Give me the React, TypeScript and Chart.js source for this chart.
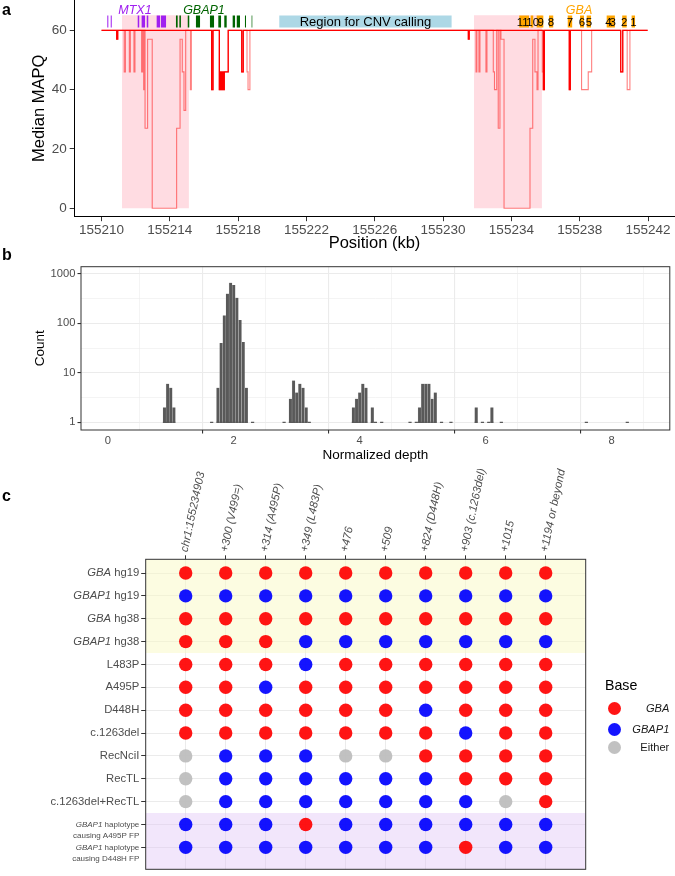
import React, { useEffect, useRef } from 'react';
import { Chart, registerables } from 'chart.js';

Chart.register(...registerables);

const FONT = '"Liberation Sans", Arial, Helvetica, sans-serif';
const AXIS_TEXT = '#4D4D4D';
Chart.defaults.font.family = FONT;

// ---------------- Panel a data ----------------
const POSITION_TICKS = [155210, 155214, 155218, 155222, 155226, 155230, 155234, 155238, 155242];
const MAPQ_TICKS = [0, 20, 40, 60];
// [position kb, median MAPQ] (value holds until next position)
const MAPQ_LIGHT: [number, number][] = [
  [155210.0, 60], [155210.89, 57], [155210.95, 60], [155211.33, 46], [155211.4, 60],
  [155211.63, 46], [155211.69, 60], [155211.9, 46], [155211.96, 60], [155212.35, 46],
  [155212.41, 60], [155212.47, 40], [155212.53, 60], [155212.55, 27], [155212.7, 57],
  [155212.97, 0], [155214.4, 27], [155214.6, 57], [155214.73, 46], [155214.83, 33],
  [155214.93, 60], [155215.2, 40], [155215.26, 60], [155216.45, 40], [155216.53, 60],
  [155216.9, 40], [155217.19, 46], [155217.42, 60], [155218.21, 46], [155218.3, 60],
  [155218.52, 46], [155218.58, 40], [155218.69, 60], [155231.48, 57], [155231.53, 60],
  [155231.93, 46], [155231.98, 60], [155232.1, 46], [155232.16, 60], [155232.51, 46],
  [155232.57, 60], [155232.94, 46], [155233.01, 40], [155233.14, 60], [155233.23, 27],
  [155233.33, 60], [155233.39, 57], [155233.57, 0], [155235.09, 27], [155235.25, 57],
  [155235.38, 46], [155235.5, 40], [155235.56, 60], [155235.81, 46], [155235.87, 40],
  [155235.93, 60], [155237.39, 40], [155237.45, 60], [155238.11, 40], [155238.5, 46],
  [155238.7, 60], [155240.4, 46], [155240.52, 60], [155240.78, 40], [155240.94, 60],
  [155241.98, 60],
];
const MAPQ_SOLID: [number, number][] = [
  [155210.0, 60], [155210.89, 57], [155210.95, 60], [155216.45, 40], [155216.53, 60],
  [155216.9, 40], [155216.94, 46], [155216.98, 40], [155217.02, 46], [155217.06, 40],
  [155217.1, 46], [155217.14, 40], [155217.19, 46], [155217.42, 60], [155218.21, 46],
  [155218.3, 60], [155231.48, 57], [155231.53, 60], [155235.87, 40], [155235.93, 60],
  [155237.39, 40], [155237.45, 60], [155240.4, 46], [155240.52, 60], [155241.98, 60],
];
const MTX1_EXONS: [number, number][] = [
  [155210.34, 155210.4], [155210.54, 155210.6], [155212.12, 155212.21], [155212.35, 155212.55],
  [155212.65, 155212.74], [155213.23, 155213.43], [155213.48, 155213.78],
];
const GBAP1_EXONS: [number, number][] = [
  [155214.36, 155214.46], [155214.56, 155214.65], [155215.05, 155215.14], [155215.53, 155215.77],
  [155216.35, 155216.59], [155216.84, 155217.0], [155217.19, 155217.33], [155217.68, 155217.82],
  [155217.92, 155218.11], [155218.4, 155218.46], [155218.79, 155218.83],
];
const GBA_EXONS: [number, number][] = [
  [155234.46, 155235.03], [155235.13, 155235.28], [155235.48, 155235.87], [155236.2, 155236.45],
  [155237.3, 155237.56], [155238.02, 155238.25], [155238.41, 155238.66], [155239.58, 155240.06],
  [155240.49, 155240.75], [155241.04, 155241.24],
];
const GBA_EXON_NUMBERS = ['11', '10', '9', '8', '7', '6', '5', '4', '3', '2', '1'];
const GBA_EXON_NUMBER_KB = [155234.66, 155235.25, 155235.71, 155236.32, 155237.43, 155238.13, 155238.54, 155239.69, 155239.93, 155240.61, 155241.14];
const GENE_NAMES = ['MTX1', 'GBAP1', 'GBA'];
const GENE_NAME_KB = [155211.96, 155216.0, 155237.96];
const GENE_COLORS = ['#A020F0', '#006400', '#FFA500'];
const CNV_REGION: [number, number] = [155220.41, 155230.5];
const CNV_LABEL = 'Region for CNV calling';
const LOW_MAPQ_REGIONS: [number, number][] = [[155211.2, 155215.12], [155231.81, 155235.79]];

// ---------------- Panel b data ----------------
const DEPTH_BIN_CENTERS = [
  0.9, 0.95, 1.0, 1.05,
  1.65, 1.75, 1.8, 1.85, 1.9, 1.95, 2.0, 2.05, 2.1, 2.15, 2.2, 2.3,
  2.8, 2.9, 2.95, 3.0, 3.05, 3.1, 3.15, 3.2,
  3.9, 3.95, 4.0, 4.05, 4.1, 4.2, 4.25, 4.35,
  4.8, 4.9, 4.95, 5.0, 5.05, 5.1, 5.15, 5.2, 5.3, 5.45,
  5.85, 5.95, 6.05, 6.1, 6.25,
  7.6, 8.25,
];
const DEPTH_BIN_COUNTS = [
  2, 6, 5, 2,
  1, 5, 40, 145, 400, 660, 600, 330, 117, 42, 5, 1,
  1, 3, 7, 4, 6, 5, 2, 1,
  2, 3, 4, 6, 5, 2, 1, 1,
  1, 1, 2, 6, 6, 6, 3, 4, 1, 1,
  2, 1, 1, 2, 1,
  1, 1,
];
const DEPTH_TICKS = [0, 1, 2, 3, 4, 5, 6, 7, 8];
const COUNT_TICKS = [1, 3.1623, 10, 31.623, 100, 316.23, 1000];
const COUNT_LABELS = [1, 10, 100, 1000];

// ---------------- Panel c data ----------------
const VARIANT_COLUMNS = ['chr1:155234903', '+300 (V499=)', '+314 (A495P)', '+349 (L483P)', '+476', '+509', '+824 (D448H)', '+903 (c.1263del)', '+1015', '+1194 or beyond'];
const ROW_ITALIC = ['GBA', 'GBAP1', 'GBA', 'GBAP1', '', '', '', '', '', '', '', 'GBAP1', 'GBAP1'];
const ROW_TEXT = [' hg19', ' hg19', ' hg38', ' hg38', 'L483P', 'A495P', 'D448H', 'c.1263del', 'RecNciI', 'RecTL', 'c.1263del+RecTL', ' haplotype', ' haplotype'];
const ROW_SUBTEXT = ['', '', '', '', '', '', '', '', '', '', '', 'causing A495P FP', 'causing D448H FP'];
const ROW_BASES = [
  'GGGGGGGGGG', 'PPPPPPPPPP', 'GGGGGGGGGG', 'GGGPPPPPPP', 'GGGPGGGGGG', 'GGPGGGGGGG', 'GGGGGGPGGG',
  'GGGGGGGPGG', 'EPPPEEGGGG', 'EPPPPPPGGG', 'EPPPPPPPEG', 'PPPGPPPPPP', 'PPPPPPPGPP',
];
const BASE_CODES = ['G', 'P', 'E'];
const BASE_NAMES = ['GBA', 'GBAP1', 'Either'];
const BASE_ITALIC = [true, true, false];
const BASE_COLORS = ['rgba(255,0,0,0.92)', 'rgba(0,0,255,0.92)', 'rgba(190,190,190,0.95)'];

const common = {
  animation: false as const,
  responsive: false,
  devicePixelRatio: 1,
  events: [] as any[],
};

function panelAConfig(): any {
  const TRACK = 63;
  const seg = (ranges: [number, number][]) => {
    const out: any[] = [];
    ranges.forEach(([a, b], i) => {
      if (i) out.push({ x: (ranges[i - 1][1] + a) / 2, y: null });
      out.push({ x: a, y: TRACK }, { x: b, y: TRACK });
    });
    return out;
  };
  const exonDs = (ranges: [number, number][], color: string, order: number) => ({
    type: 'line', data: seg(ranges), borderColor: color, borderWidth: 12, borderCapStyle: 'butt',
    pointRadius: 0, spanGaps: false, fill: false, order,
  });
  const stepDs = (pts: [number, number][], color: string, w: number, order: number) => ({
    type: 'line', data: pts.map(([x, y]) => ({ x, y })), borderColor: color, borderWidth: w,
    stepped: 'before', pointRadius: 0, fill: false, order, borderJoinStyle: 'miter',
  });
  const regionDs = LOW_MAPQ_REGIONS.map(([a, b]) => ({
    type: 'line', data: [{ x: a, y: 65.1 }, { x: b, y: 65.1 }], borderColor: 'transparent', borderWidth: 0,
    pointRadius: 0, fill: { value: 0 }, backgroundColor: 'rgba(255,192,203,0.55)', order: 20,
  }));
  const annot = {
    id: 'annotA',
    afterDatasetsDraw(chart: any) {
      const { ctx, scales } = chart;
      const x = scales.x, y = scales.y;
      ctx.save();
      ctx.textAlign = 'center';
      ctx.textBaseline = 'middle';
      GENE_NAMES.forEach((g, i) => {
        ctx.font = `italic 12.5px ${FONT}`;
        ctx.fillStyle = GENE_COLORS[i];
        ctx.fillText(g, x.getPixelForValue(GENE_NAME_KB[i]), y.getPixelForValue(66.8));
      });
      ctx.fillStyle = '#000';
      ctx.font = `11.5px ${FONT}`;
      GBA_EXON_NUMBERS.forEach((n, i) => {
        ctx.fillText(n, x.getPixelForValue(GBA_EXON_NUMBER_KB[i]), y.getPixelForValue(TRACK) + 1);
      });
      ctx.font = `13px ${FONT}`;
      ctx.fillText(CNV_LABEL, x.getPixelForValue((CNV_REGION[0] + CNV_REGION[1]) / 2), y.getPixelForValue(TRACK) + 1);
      ctx.restore();
    },
  };
  return {
    type: 'line',
    data: {
      datasets: [
        stepDs(MAPQ_SOLID, '#FF0000', 1.3, 0),
        stepDs(MAPQ_LIGHT, 'rgba(255,0,0,0.5)', 1.1, 1),
        exonDs(MTX1_EXONS, GENE_COLORS[0], 5),
        exonDs(GBAP1_EXONS, GENE_COLORS[1], 5),
        exonDs(GBA_EXONS, GENE_COLORS[2], 5),
        exonDs([CNV_REGION], '#ADD8E6', 6),
        ...regionDs,
      ],
    },
    options: {
      ...common,
      layout: { padding: 0 },
      plugins: { legend: { display: false }, tooltip: { enabled: false } },
      scales: {
        x: {
          type: 'linear', min: 155208.39, max: 155243.58,
          afterBuildTicks: (s: any) => { s.ticks = POSITION_TICKS.map((value) => ({ value })); },
          afterFit: (s: any) => { s.height = 36.3; s.paddingLeft = 0; s.paddingRight = 0; },
          ticks: { callback: (v: any) => String(v), font: { size: 13.5 }, color: AXIS_TEXT, padding: 0.5, autoSkip: false, maxRotation: 0 },
          grid: { drawOnChartArea: false, drawTicks: true, tickLength: 4.5, tickColor: '#333', color: '#333' },
          border: { display: true, color: '#000', width: 1 },
          title: { display: true, text: 'Position (kb)', font: { size: 16.5 }, color: '#000', padding: { top: 0, bottom: 0 } },
        },
        y: {
          type: 'linear', min: -2.83, max: 70.21,
          afterBuildTicks: (s: any) => { s.ticks = MAPQ_TICKS.map((value) => ({ value })); },
          afterFit: (s: any) => { s.width = 74; s.paddingTop = 0; s.paddingBottom = 0; },
          ticks: { callback: (v: any) => String(v), font: { size: 13.5 }, color: AXIS_TEXT, padding: 3 },
          grid: { drawOnChartArea: false, drawTicks: true, tickLength: 4.3, tickColor: '#333', color: '#333' },
          border: { display: true, color: '#000', width: 1 },
          title: { display: true, text: 'Median MAPQ', font: { size: 16.5 }, color: '#000', padding: { top: 30, bottom: 0 } },
        },
      },
    },
    plugins: [annot],
  };
}

const boxPlugin = {
  id: 'panelBox',
  afterDatasetsDraw(chart: any) {
    const { ctx, chartArea: a } = chart;
    ctx.save();
    ctx.strokeStyle = '#333';
    ctx.lineWidth = 1;
    ctx.strokeRect(a.left, a.top, a.right - a.left, a.bottom - a.top);
    ctx.restore();
  },
};

function panelBConfig(): any {
  return {
    type: 'bar',
    data: {
      datasets: [
        {
          type: 'scatter',
          data: DEPTH_BIN_CENTERS.map((x) => ({ x, y: 1 })),
          pointStyle: 'line', pointRadius: 1.6, borderColor: '#595959', borderWidth: 1.2, order: 0,
        },
        {
          type: 'bar',
          data: DEPTH_BIN_CENTERS.map((x, i) => ({ x, y: [1, DEPTH_BIN_COUNTS[i]] })),
          backgroundColor: '#595959', borderColor: 'rgba(200,200,200,0.55)',
          borderWidth: { left: 0.5, right: 0, top: 0, bottom: 0 }, borderSkipped: false,
          barThickness: 3.17, order: 1,
        },
      ],
    },
    options: {
      ...common,
      layout: { padding: { top: 13.7, right: 0.7, left: 0, bottom: 0 } },
      plugins: { legend: { display: false }, tooltip: { enabled: false } },
      scales: {
        x: {
          type: 'linear', min: -0.425, max: 8.925, offset: false,
          afterBuildTicks: (s: any) => { s.ticks = DEPTH_TICKS.map((value) => ({ value })); },
          afterFit: (s: any) => { s.height = 35; s.paddingLeft = 0; s.paddingRight = 0; },
          ticks: { callback: (v: any) => (v % 2 === 0 ? String(v) : ''), font: { size: 11.2 }, color: AXIS_TEXT, padding: 0.5, autoSkip: false, maxRotation: 0 },
          grid: {
            color: '#EBEBEB',
            lineWidth: (c: any) => (c.tick && c.tick.value % 2 === 0 ? 1.1 : 0.55),
            tickColor: (c: any) => (c.tick && c.tick.value % 2 === 0 ? '#333' : 'rgba(0,0,0,0)'),
            tickLength: 3.5,
          },
          border: { display: false },
          title: { display: true, text: 'Normalized depth', font: { size: 13.5 }, color: '#000', padding: { top: 0, bottom: 1.9 } },
        },
        y: {
          type: 'logarithmic', min: 0.7334, max: 1401,
          afterBuildTicks: (s: any) => { s.ticks = COUNT_TICKS.map((value) => ({ value })); },
          afterFit: (s: any) => { s.width = 81; s.paddingTop = 0; s.paddingBottom = 0; },
          ticks: { callback: (v: any) => (COUNT_LABELS.includes(v) ? String(v) : ''), font: { size: 11.2 }, color: AXIS_TEXT, padding: 2 },
          grid: {
            color: '#EBEBEB',
            lineWidth: (c: any) => (c.tick && COUNT_LABELS.includes(c.tick.value) ? 1.1 : 0.55),
            tickColor: (c: any) => (c.tick && COUNT_LABELS.includes(c.tick.value) ? '#333' : 'rgba(0,0,0,0)'),
            tickLength: 3.5,
          },
          border: { display: false },
          title: { display: true, text: 'Count', font: { size: 13.5 }, color: '#000', padding: { top: 32.6, bottom: 0 } },
        },
      },
    },
    plugins: [boxPlugin],
  };
}

function panelCConfig(): any {
  const rowLabels = {
    id: 'rowLabels',
    afterDraw(chart: any) {
      const { ctx, chartArea, scales } = chart;
      const y = scales.y;
      const right = chartArea.left - 6.4;
      ctx.save();
      ctx.fillStyle = AXIS_TEXT;
      ctx.textBaseline = 'middle';
      ROW_TEXT.forEach((txt, i) => {
        const py = y.getPixelForValue(i + 1);
        const small = ROW_SUBTEXT[i] !== '';
        const size = small ? 8 : 11.3;
        const it = ROW_ITALIC[i];
        ctx.font = `${size}px ${FONT}`;
        const wRest = ctx.measureText(txt).width;
        ctx.font = `italic ${size}px ${FONT}`;
        const wIt = it ? ctx.measureText(it).width : 0;
        const x0 = right - wRest - wIt;
        ctx.textAlign = 'left';
        if (it) ctx.fillText(it, x0, py);
        ctx.font = `${size}px ${FONT}`;
        ctx.fillText(txt, x0 + wIt, py);
        if (small) {
          ctx.textAlign = 'right';
          ctx.fillText(ROW_SUBTEXT[i], right, py + 11.4);
        }
      });
      ctx.restore();
    },
  };
  const points = BASE_CODES.map((code) => {
    const pts: { x: number; y: number }[] = [];
    ROW_BASES.forEach((row, r) => {
      row.split('').forEach((c, col) => { if (c === code) pts.push({ x: col + 1, y: r + 1 }); });
    });
    return pts;
  });
  return {
    type: 'scatter',
    data: {
      datasets: [
        ...points.map((pts, i) => ({
          type: 'scatter', data: pts, backgroundColor: BASE_COLORS[i], borderWidth: 0, pointRadius: 6.7, order: i,
        })),
        {
          type: 'line', data: [{ x: 0, y: 4.5 }, { x: 11, y: 4.5 }], borderColor: 'transparent', borderWidth: 0,
          pointRadius: 0, fill: { value: 0.4 }, backgroundColor: 'rgba(250,250,195,0.5)', order: 20,
        },
        {
          type: 'line', data: [{ x: 0, y: 11.5 }, { x: 11, y: 11.5 }], borderColor: 'transparent', borderWidth: 0,
          pointRadius: 0, fill: { value: 13.96 }, backgroundColor: 'rgba(225,195,245,0.42)', order: 21,
        },
      ],
    },
    options: {
      ...common,
      layout: { padding: { top: 0, right: 89.3, left: 0, bottom: 1 } },
      plugins: { legend: { display: false }, tooltip: { enabled: false } },
      scales: {
        x: {
          type: 'linear', position: 'top', min: 0, max: 11,
          afterBuildTicks: (s: any) => { s.ticks = VARIANT_COLUMNS.map((_, i) => ({ value: i + 1 })); },
          afterFit: (s: any) => { s.height = 94.3; s.paddingLeft = 0; s.paddingRight = 0; },
          ticks: {
            callback: (v: any) => VARIANT_COLUMNS[v - 1] ?? '',
            font: { size: 11.3, style: 'italic' }, color: AXIS_TEXT, padding: 2,
            autoSkip: false, minRotation: 78, maxRotation: 78, labelOffset: 12,
          },
          grid: { color: '#EBEBEB', lineWidth: 1, tickColor: '#333', tickLength: 4 },
          border: { display: false },
        },
        y: {
          type: 'linear', reverse: true, min: 0.4, max: 13.96,
          afterBuildTicks: (s: any) => { s.ticks = ROW_TEXT.map((_, i) => ({ value: i + 1 })); },
          afterFit: (s: any) => { s.width = 145.7; s.paddingTop = 0; s.paddingBottom = 0; },
          ticks: { callback: () => '', padding: 0 },
          grid: { color: '#EBEBEB', lineWidth: 1, tickColor: '#333', tickLength: 4.5 },
          border: { display: false },
        },
      },
    },
    plugins: [boxPlugin, rowLabels],
  };
}

function ChartCanvas({ top, height, make }: { top: number; height: number; make: () => any }) {
  const ref = useRef<HTMLCanvasElement>(null);
  useEffect(() => {
    const chart = new Chart(ref.current as HTMLCanvasElement, make());
    return () => chart.destroy();
  }, []);
  return (
    <canvas
      ref={ref}
      width={675}
      height={height}
      style={{ position: 'absolute', left: 0, top, width: 675, height }}
    />
  );
}

const letter = (t: string, top: number) => (
  <div style={{ position: 'absolute', left: 2, top, fontFamily: FONT, fontWeight: 'bold', fontSize: 16, lineHeight: '16px', color: '#000' }}>{t}</div>
);

const LEGEND_Y = [708.3, 729.3, 747.7];

export default function App() {
  return (
    <div style={{ position: 'absolute', left: 0, top: 0, width: 675, height: 876, background: '#fff', overflow: 'hidden' }}>
      <ChartCanvas top={0} height={253} make={panelAConfig} />
      <ChartCanvas top={253} height={212} make={panelBConfig} />
      <ChartCanvas top={465} height={411} make={panelCConfig} />
      {letter('a', 2)}
      {letter('b', 247)}
      {letter('c', 488)}
      <div style={{ position: 'absolute', left: 605, top: 677, fontFamily: FONT, fontSize: 14.2, lineHeight: '16px', color: '#000' }}>Base</div>
      {BASE_NAMES.map((n, i) => (
        <React.Fragment key={n}>
          <div style={{ position: 'absolute', left: 614.3 - 6.65, top: LEGEND_Y[i] - 6.65, width: 13.3, height: 13.3, borderRadius: '50%', background: BASE_COLORS[i] }} />
          <div style={{ position: 'absolute', right: 5.7, top: LEGEND_Y[i] - 6.5, fontFamily: FONT, fontSize: 11.1, lineHeight: '13px', color: '#1a1a1a', fontStyle: BASE_ITALIC[i] ? 'italic' : 'normal', textAlign: 'right' }}>{n}</div>
        </React.Fragment>
      ))}
    </div>
  );
}
